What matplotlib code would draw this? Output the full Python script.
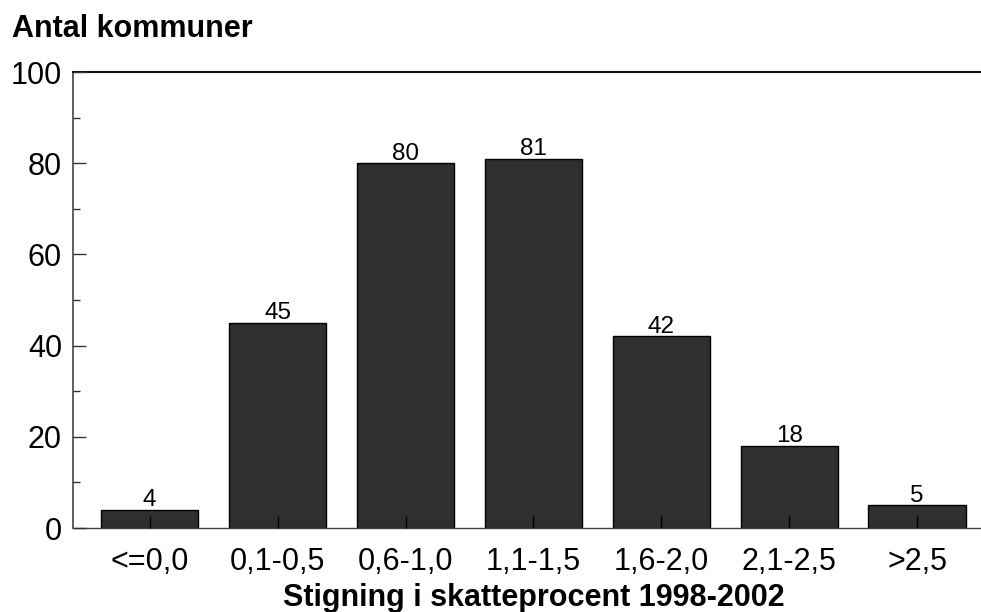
import matplotlib
matplotlib.use("Agg")
import matplotlib.pyplot as plt
from matplotlib.ticker import MultipleLocator

categories = ["<=0,0", "0,1-0,5", "0,6-1,0", "1,1-1,5", "1,6-2,0", "2,1-2,5", ">2,5"]
values = [4, 45, 80, 81, 42, 18, 5]
yticks = [0, 20, 40, 60, 80, 100]
title = "Antal kommuner"
xlabel = "Stigning i skatteprocent 1998-2002"

plt.rcParams['font.family'] = ['Liberation Sans', 'DejaVu Sans']

fig = plt.figure(figsize=(9.81, 6.12), dpi=100)
ax = fig.add_axes([73/981, 1-528/612, 1-73/981, (528-72)/612])

x = list(range(len(categories)))
ax.bar(x, values, width=0.76, color='#2f2f2f', edgecolor='black', linewidth=1.0, zorder=2)
for xi, v in zip(x, values):
    ax.annotate(str(v), (xi, v), xytext=(0, 2.5), textcoords='offset points',
                ha='center', va='baseline', fontsize=17.5, color='black', zorder=4)

ax.set_xlim(-0.6, 6.5)
ax.set_ylim(0, 100)
ax.set_yticks(yticks)
ax.yaxis.set_minor_locator(MultipleLocator(10))
ax.set_xticks(x)
ax.set_xticklabels(categories)

ax.tick_params(axis='y', which='major', direction='in', length=9, width=1, color='#333333',
               labelsize=22, pad=8)
ax.tick_params(axis='y', which='minor', direction='in', length=5, width=1, color='#333333')
ax.tick_params(axis='x', which='major', direction='in', length=9, width=1, color='black',
               labelsize=22, pad=14)
for t in ax.xaxis.get_major_ticks():
    t.tick1line.set_zorder(5)
ax.set_axisbelow(False)

ax.spines['right'].set_visible(False)
ax.spines['top'].set_color('#111111')
ax.spines['top'].set_linewidth(1.5)
ax.spines['left'].set_color('#444444')
ax.spines['left'].set_linewidth(1.2)
ax.spines['bottom'].set_color('#444444')
ax.spines['bottom'].set_linewidth(1.0)

fig.text(12/981, 1-37/612, title, fontsize=22, fontweight='bold', ha='left', va='baseline')
fig.text(534/981, 1-606/612, xlabel, fontsize=22, fontweight='bold', ha='center', va='baseline')

fig.savefig("out.png", dpi=100)
